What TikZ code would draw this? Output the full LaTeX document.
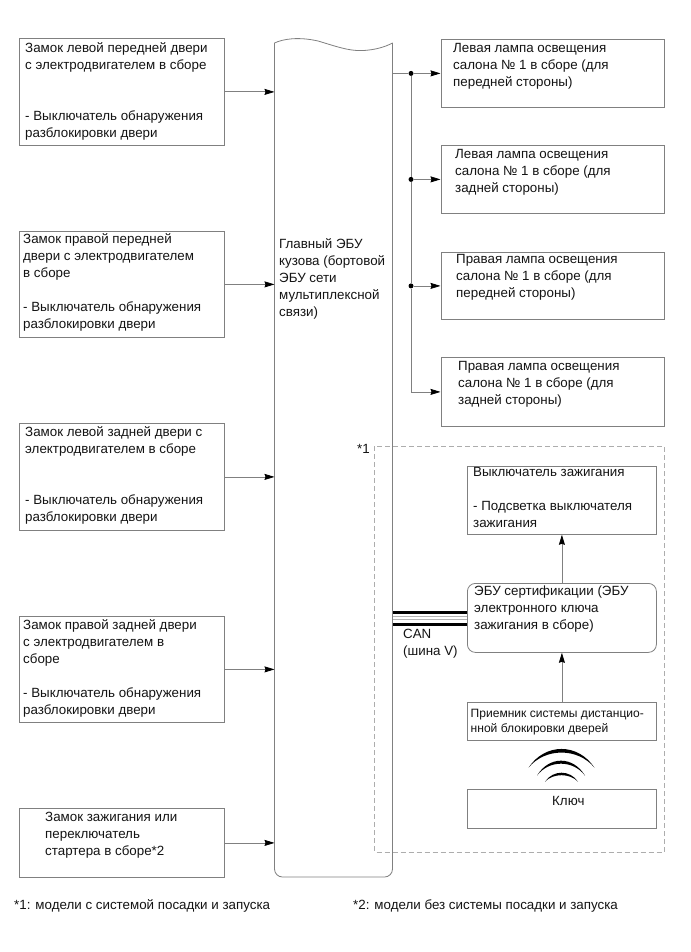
\documentclass[tikz,border=0pt]{standalone}
\usepackage{fontspec}
\setmainfont{Liberation Sans}
\usetikzlibrary{arrows.meta}
\tikzset{
  box/.style={draw=linegray,line width=0.8pt,fill=white,rectangle,inner sep=0pt,anchor=north west},
  txt/.style={align=left,anchor=north west,inner sep=0pt,yshift=11.9pt,text=textblack,font=\fontsize{13.35}{17}\selectfont},
  smalltxt/.style={txt,yshift=-1.4pt,font=\fontsize{12.05}{15}\selectfont},
  conn/.style={draw=linegray,line width=0.8pt},
  arrow/.style={conn,-{Stealth[black,length=10pt,width=6pt,inset=1pt]}},
  dot/.style={circle,fill=black,inner sep=0pt,minimum size=5pt},
  canthick/.style={draw=black,line width=3.2pt},
  canthin/.style={draw=lightline,line width=0.6pt},
  zone/.style={draw=dashgray,line width=0.9pt,dash pattern=on 5pt off 3pt}
}
\definecolor{linegray}{gray}{0.5}
\definecolor{lightline}{gray}{0.7}
\definecolor{dashgray}{gray}{0.68}
\definecolor{textblack}{gray}{0.08}
\begin{document}
\begin{tikzpicture}[x=1pt,y=-1pt]
\useasboundingbox (0,0) rectangle (690,952);
\fill[white] (0,0) rectangle (690,952);
% dashed zone
\draw[zone] (374.5,446) rectangle (664,852);
% main unit
\draw[linegray,line width=0.8pt,rounded corners=8pt]
  (392.5,43) -- (392.5,877) -- (274.5,877) -- (274.5,43);
\draw[linegray,line width=0.8pt]
  (274.5,43) .. controls (283,39) and (298,36.5) .. (318,41)
  .. controls (335,46) and (348,51) .. (362,50.6)
  .. controls (375,50) and (385,47) .. (392.5,43);
\node[minimum width=118pt,minimum height=834pt,inner sep=0pt,anchor=north west] (main) at (274.5,43) {};
\node[txt] (maintext) at (279,248) {\strut Главный ЭБУ\\кузова (бортовой\\ЭБУ сети\\мультиплексной\\связи)};
% left boxes
\node[box,minimum width=204.5pt,minimum height=107pt] (b1) at (19,38) {};
\node[box,minimum width=204.5pt,minimum height=106pt] (b2) at (19,231) {};
\node[box,minimum width=204.5pt,minimum height=107pt] (b3) at (19,423) {};
\node[box,minimum width=204.5pt,minimum height=106pt] (b4) at (19,616) {};
\node[box,minimum width=204.5pt,minimum height=69pt] (b5) at (19,808) {};
\node[txt] (t1) at (25,52.5) {\strut Замок левой передней двери\\с электродвигателем в сборе\\[34pt]- Выключатель обнаружения\\разблокировки двери};
\node[txt] (t2) at (23,243.5) {\strut Замок правой передней\\двери с электродвигателем\\в сборе\\[17pt]- Выключатель обнаружения\\разблокировки двери};
\node[txt] (t3) at (25,436.5) {\strut Замок левой задней двери с\\электродвигателем в сборе\\[34pt]- Выключатель обнаружения\\разблокировки двери};
\node[txt] (t4) at (23,629.5) {\strut Замок правой задней двери\\с электродвигателем в\\сборе\\[17pt]- Выключатель обнаружения\\разблокировки двери};
\node[txt] (t5) at (45,821.5) {\strut Замок зажигания или\\переключатель\\стартера в сборе*2};
% right boxes
\node[box,minimum width=223.5pt,minimum height=68pt] (r1) at (440.5,39) {};
\node[box,minimum width=223.5pt,minimum height=68pt] (r2) at (440.5,145) {};
\node[box,minimum width=223.5pt,minimum height=67pt] (r3) at (440.5,252) {};
\node[box,minimum width=223.5pt,minimum height=69pt] (r4) at (440.5,357) {};
\node[txt] (rt1) at (453,52.5) {\strut Левая лампа освещения\\салона № 1 в сборе (для\\передней стороны)};
\node[txt] (rt2) at (455,158.5) {\strut Левая лампа освещения\\салона № 1 в сборе (для\\задней стороны)};
\node[txt] (rt3) at (456,263.5) {\strut Правая лампа освещения\\салона № 1 в сборе (для\\передней стороны)};
\node[txt] (rt4) at (458,370.5) {\strut Правая лампа освещения\\салона № 1 в сборе (для\\задней стороны)};
% zone boxes
\node[box,minimum width=189pt,minimum height=68pt] (sw) at (467,466) {};
\node[box,rounded corners=8pt,minimum width=189pt,minimum height=69pt] (cert) at (467,583) {};
\node[box,minimum width=189pt,minimum height=38pt] (rcv) at (467,702) {};
\node[box,minimum width=189pt,minimum height=39pt] (key) at (467,789) {};
\node[txt] (swt) at (473,476.5) {\strut Выключатель зажигания\\[17pt]- Подсветка выключателя\\зажигания};
\node[txt] (certt) at (474,595.5) {\strut ЭБУ сертификации (ЭБУ\\электронного ключа\\зажигания в сборе)};
\node[smalltxt] (rcvt) at (470.5,717) {\strut Приемник системы дистанцио-\\нной блокировки дверей};
\node[txt] (keyt) at (552,805.5) {\strut Ключ};
\node[txt] (cant) at (403,638.5) {\strut CAN\\(шина V)};
\node[txt] (zonet) at (357,453.5) {\strut *1};
\node[txt] (fn1) at (14,909) {\strut *1: модели с системой посадки и запуска};
\node[txt] (fn2) at (353,909.5) {\strut *2: модели без системы посадки и запуска};
% left arrows
\foreach \n in {b1,b2,b3,b4,b5}
  \draw[arrow] (\n.east) -- (\n.east -| main.west);
% right bus
\coordinate (bus) at (411,0);
\node[dot] (j1) at (bus |- r1.west) {};
\node[dot] (j2) at (bus |- r2.west) {};
\node[dot] (j3) at (bus |- r3.west) {};
\coordinate (j4) at (bus |- r4.west);
\draw[conn] (r1.west -| main.east) -- (j1);
\draw[arrow] (j1) -- (r1.west);
\draw[arrow] (j2) -- (r2.west);
\draw[arrow] (j3) -- (r3.west);
\draw[conn] (j1) -- (j2) -- (j3) -- (j4);
\draw[arrow] (j4) -- (r4.west);
% zone arrows
\draw[arrow] (cert.north) -- (sw.south);
\draw[arrow] (rcv.north) -- (cert.south);
% CAN
\coordinate (canstart) at (main.east |- cert.west);
\draw[canthick] ([yshift=5.8pt]canstart) -- ([yshift=5.8pt]cert.west);
\draw[canthin] ([yshift=2pt]canstart) -- ([yshift=2pt]cert.west);
\draw[canthin] ([yshift=-1.8pt]canstart) -- ([yshift=-1.8pt]cert.west);
\draw[canthick] ([yshift=-6.2pt]canstart) -- ([yshift=-6.2pt]cert.west);
% radio waves
\fill[black] (528.5,767.7) .. controls (545,742.7) and (578,742.7) .. (594.5,767.7) .. controls (578,747.5) and (545,747.5) .. cycle;
\fill[black] (537,775.6) .. controls (549,755.7) and (573,755.7) .. (585,775.6) .. controls (573,759.7) and (549,759.7) .. cycle;
\fill[black] (545,781.7) .. controls (553,769.7) and (570,769.7) .. (578,781.7) .. controls (570,773) and (553,773) .. cycle;
\end{tikzpicture}
\end{document}
